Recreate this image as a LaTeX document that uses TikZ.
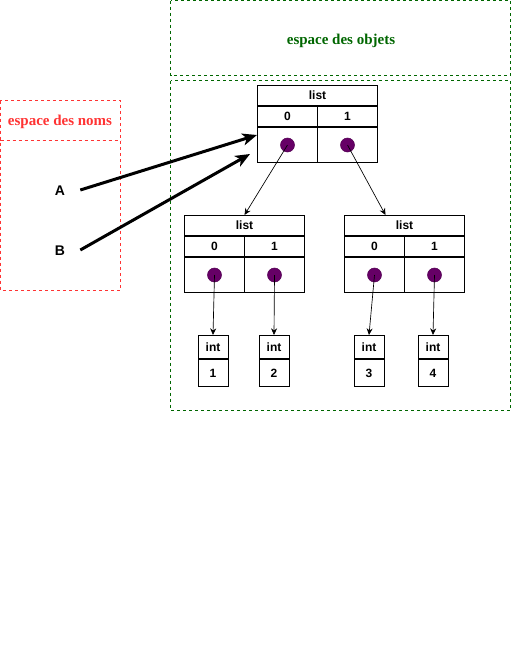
\documentclass[tikz,border=0pt]{standalone}
\usepackage{fontspec}
\setmainfont{Liberation Serif}
\setsansfont{Liberation Sans}
\usetikzlibrary{arrows.meta,positioning}

\definecolor{objgreen}{RGB}{0,102,0}
\definecolor{nomred}{RGB}{255,51,51}
\definecolor{dotpurple}{RGB}{102,0,102}

\tikzset{
  zone/.style={dash pattern=on 2.25pt off 2.25pt, line width=0.75pt},
  title/.style={font=\bfseries\fontsize{11.25}{13}\selectfont},
  cell/.style={draw, line width=0.75pt, inner sep=0pt, font=\sffamily\bfseries\fontsize{9}{10}\selectfont},
  varname/.style={inner sep=0pt, font=\sffamily\bfseries\fontsize{10.5}{12}\selectfont},
  dot/.style={circle, fill=dotpurple, draw=dotpurple!80!black, inner sep=0pt, minimum size=10.5pt},
  ptr/.style={-{Stealth[length=5pt,width=4.5pt]}, line width=0.5pt},
  ref/.style={-{Stealth[length=11pt,width=9pt,inset=3pt]}, line width=2.25pt}
}

\begin{document}
\begin{tikzpicture}[x=0.75pt, y=-0.75pt]
    \useasboundingbox (0,0) rectangle (511,661);
    % espace des objets
    \draw[zone, objgreen] (170.5,0.5) rectangle (510.5,75);
    \node[title, text=objgreen] (objtitle) at (341,41) {espace des objets};
    \draw[zone, objgreen] (170.5,80.5) rectangle (510.5,410);
    % espace des noms
    \draw[zone, nomred] (0.5,100.5) rectangle (120.5,290);
    \draw[zone, nomred] (0.5,140.5) -- (120.5,140.5);
    \node[title, text=nomred] (nomtitle) at (60,122) {espace des noms};
    % les listes
    \foreach \n/\x/\y in {top/257/85, left/184/215, right/344/215} {
        \node[cell, minimum width=90pt, minimum height=15pt, anchor=north west] (\n) at (\x,\y) {list};
        \node[cell, minimum width=45pt, minimum height=15pt, anchor=north west] (\n-0) at (\n.south west) {0};
        \node[cell, minimum width=45pt, minimum height=15pt, anchor=north east] (\n-1) at (\n.south east) {1};
        \node[cell, minimum width=45pt, minimum height=26.25pt, anchor=north west] (\n-c0) at (\n-0.south west) {};
        \node[cell, minimum width=45pt, minimum height=26.25pt, anchor=north west] (\n-c1) at (\n-1.south west) {};
        \node[dot] (\n-d0) at (\n-c0.center) {};
        \node[dot] (\n-d1) at (\n-c1.center) {};
    }
    % les entiers
    \foreach \n/\x/\v in {i1/213/1, i2/274/2, i3/369/3, i4/433/4} {
        \node[cell, minimum width=22.5pt, minimum height=17.25pt, anchor=north] (\n) at (\x,335) {int};
        \node[cell, minimum width=22.5pt, minimum height=20.25pt, anchor=north] (\n-v) at (\n.south) {\v};
    }
    % pointeurs
    \draw[ptr] (top-d0.center) -- (left.north);
    \draw[ptr] (top-d1.center) -- ([xshift=-14.25pt]right.north);
    \draw[ptr] (left-d0.center) -- (i1.north);
    \draw[ptr] (left-d1.center) -- (i2.north);
    \draw[ptr] (right-d0.center) -- (i3.north);
    \draw[ptr] (right-d1.center) -- (i4.north);
    % les noms
    \node[varname] (a) at (60,191) {A};
    \node[varname] (b) at (60,251) {B};
    \coordinate (aend) at ([yshift=-6pt]top-c0.north west);
    \coordinate (bend) at ([xshift=-5.25pt, yshift=-20.25pt]top-c0.north west);
    \draw[ref] ([xshift=11.25pt, yshift=0.75pt]a.east) -- (aend);
    \draw[ref] ([xshift=11.25pt, yshift=0.75pt]b.east) -- (bend);
\end{tikzpicture}
\end{document}
